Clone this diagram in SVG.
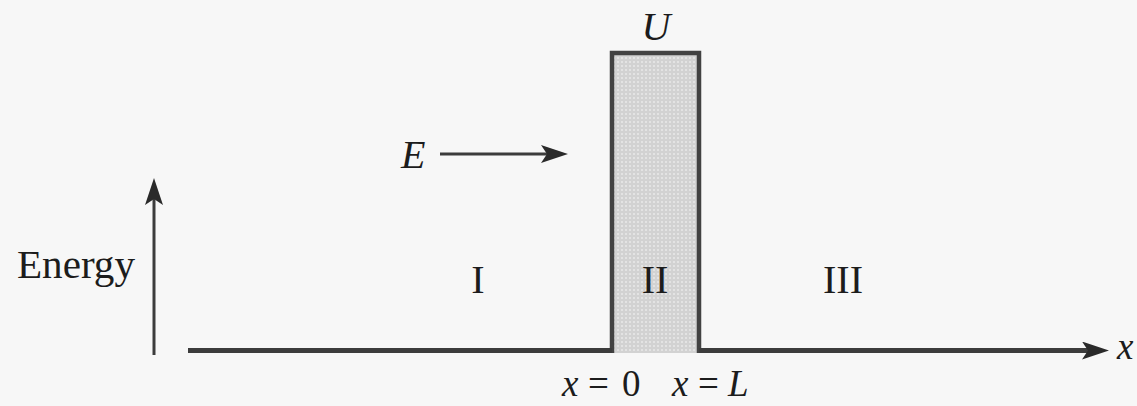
<svg xmlns="http://www.w3.org/2000/svg" width="1137" height="406" viewBox="0 0 1137 406">
  <style>
    .t { font-family: "Liberation Serif", "DejaVu Serif", serif; fill: #1c1c1c; font-size: 40px; }
    .it { font-style: italic; }
    .ax { stroke: #3c3c3c; fill: none; stroke-linecap: butt; }
    .wall { stroke: #424242; stroke-width: 4.5; fill: url(#dots); }
  </style>
  <defs>
    <pattern id="dots" width="4" height="4" patternUnits="userSpaceOnUse">
      <rect width="4" height="4" fill="#d2d2d2"/>
      <circle cx="2" cy="2" r="1" fill="#e9e9e9"/>
    </pattern>
    <marker id="arr" viewBox="0 0 27 18" markerWidth="27" markerHeight="18" refX="6" refY="9" orient="auto" markerUnits="userSpaceOnUse">
      <path d="M0,0 L27,9 L0,18 L6,9 Z" fill="#2a2a2a"/>
    </marker>
  </defs>
  <rect width="1137" height="406" fill="#f7f7f7"/>

  <g id="barrier">
    <rect x="612" y="53" width="87" height="300" fill="url(#dots)" stroke="none"/>
    <path class="wall" d="M612,353 V53 H699 V353" fill="none"/>
    <text class="t it" x="656" y="40" text-anchor="middle">U</text>
  </g>

  <g id="connectors">
    <line class="ax" x1="188" y1="350.5" x2="612" y2="350.5" stroke-width="5"/>
    <line class="ax" x1="699" y1="350.5" x2="1088" y2="350.5" stroke-width="5" marker-end="url(#arr)"/>
    <line class="ax" x1="154" y1="355" x2="154" y2="199" stroke-width="3" marker-end="url(#arr)"/>
    <line class="ax" x1="440" y1="154" x2="547" y2="154" stroke-width="3" marker-end="url(#arr)"/>
  </g>

  <g id="energy-label">
    <text class="t" x="17" y="278" textLength="118" lengthAdjust="spacingAndGlyphs">Energy</text>
  </g>
  <g id="incident-E">
    <text class="t it" x="401" y="168">E</text>
  </g>
  <g id="region-I">
    <text class="t" x="478" y="293" text-anchor="middle">I</text>
  </g>
  <g id="region-II">
    <text class="t" x="655" y="293" text-anchor="middle">II</text>
  </g>
  <g id="region-III">
    <text class="t" x="843" y="293" text-anchor="middle">III</text>
  </g>
  <g id="x-axis-label">
    <text class="t it" x="1117" y="359" style="font-size:37px">x</text>
  </g>
  <g id="label-x0">
    <text class="t" y="396" style="font-size:37px"><tspan class="it" x="562">x</tspan><tspan x="588">=</tspan><tspan x="622">0</tspan></text>
  </g>
  <g id="label-xL">
    <text class="t" y="396" style="font-size:37px"><tspan class="it" x="672">x</tspan><tspan x="698">=</tspan><tspan class="it" x="728">L</tspan></text>
  </g>
</svg>
